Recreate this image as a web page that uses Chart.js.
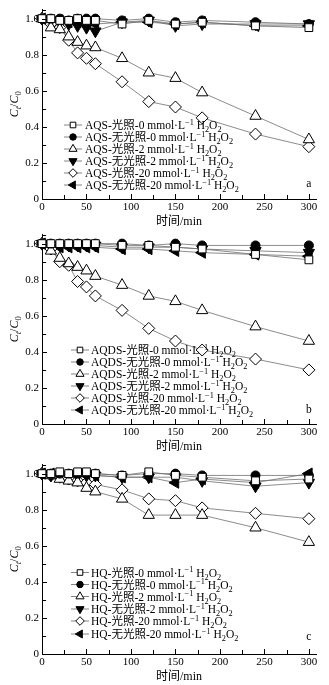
<!DOCTYPE html>
<html><head><meta charset="utf-8">
<script src="https://cdn.jsdelivr.net/npm/chart.js@4.4.1/dist/chart.umd.min.js"></script>
<style>
html,body{margin:0;padding:0;background:#fff;width:329px;height:685px;overflow:hidden;}
.p{position:absolute;left:0;width:329px;height:230px;}
</style></head><body>
<div class="p" style="top:0px"><canvas id="c0"></canvas></div>
<div class="p" style="top:225px"><canvas id="c1"></canvas></div>
<div class="p" style="top:455px"><canvas id="c2"></canvas></div>
<script>
// ---- data ----
const times = [0, 10, 20, 30, 40, 50, 60, 90, 120, 150, 180, 240, 300];
const xTicks = [0, 50, 100, 150, 200, 250, 300];
const yTicks = [0, 0.2, 0.4, 0.6, 0.8, 1.0];
const panelLetters = ['a', 'b', 'c'];
const compounds = ['AQS', 'AQDS', 'HQ'];
const conditions = ['光照-0', '无光照-0', '光照-2', '无光照-2', '光照-20', '无光照-20'];

// panel a : AQS
const aqsLight0   = [1.00, 1.00, 0.99, 0.99, 1.00, 0.99, 0.99, 0.97, 0.99, 0.97, 0.98, 0.96, 0.95];
const aqsDark0    = [1.00, 1.00, 1.00, 0.99, 1.00, 1.00, 1.00, 0.99, 1.00, 0.98, 0.99, 0.98, 0.97];
const aqsLight2   = [1.00, 0.95, 0.94, 0.90, 0.87, 0.85, 0.84, 0.78, 0.70, 0.67, 0.59, 0.46, 0.33];
const aqsDark2    = [1.00, 0.99, 0.98, 0.97, 0.96, 0.95, 0.93, 0.98, 0.99, 0.96, 0.97, 0.97, 0.97];
const aqsLight20  = [1.00, 0.97, 0.95, 0.88, 0.81, 0.78, 0.75, 0.65, 0.54, 0.51, 0.45, 0.36, 0.29];
const aqsDark20   = [1.00, 0.99, 0.99, 0.98, 0.98, 0.98, 0.97, 0.98, 0.98, 0.97, 0.98, 0.96, 0.96];

// panel b : AQDS
const aqdsLight0  = [1.00, 1.00, 1.00, 1.00, 1.00, 1.00, 1.00, 0.99, 0.99, 0.98, 0.97, 0.94, 0.91];
const aqdsDark0   = [1.00, 1.00, 1.00, 1.00, 1.00, 1.00, 1.00, 1.00, 0.99, 1.00, 0.99, 0.99, 0.99];
const aqdsLight2  = [1.00, 0.96, 0.92, 0.89, 0.87, 0.85, 0.82, 0.77, 0.71, 0.68, 0.63, 0.54, 0.46];
const aqdsDark2   = [1.00, 0.99, 0.99, 0.99, 0.99, 0.99, 0.99, 0.98, 0.98, 0.98, 0.97, 0.96, 0.95];
const aqdsLight20 = [1.00, 0.97, 0.90, 0.88, 0.79, 0.76, 0.71, 0.63, 0.53, 0.46, 0.41, 0.36, 0.30];
const aqdsDark20  = [1.00, 0.98, 0.98, 0.98, 0.98, 0.98, 0.98, 0.97, 0.97, 0.96, 0.95, 0.94, 0.93];

// panel c : HQ
const hqLight0    = [1.00, 1.00, 1.01, 1.00, 1.01, 1.01, 1.00, 0.99, 1.01, 0.99, 0.98, 0.96, 0.97];
const hqDark0     = [1.00, 1.00, 1.00, 1.00, 1.00, 1.00, 1.00, 0.99, 1.00, 1.00, 0.99, 0.99, 0.99];
const hqLight2    = [1.00, 0.99, 0.97, 0.96, 0.95, 0.92, 0.90, 0.86, 0.77, 0.77, 0.77, 0.70, 0.62];
const hqDark2     = [1.00, 0.99, 0.99, 0.99, 0.99, 0.99, 0.99, 0.98, 0.98, 0.98, 0.96, 0.93, 0.95];
const hqLight20   = [1.00, 0.99, 0.98, 0.97, 0.96, 0.95, 0.94, 0.91, 0.86, 0.85, 0.81, 0.78, 0.75];
const hqDark20    = [1.00, 1.00, 0.99, 0.99, 0.99, 0.99, 0.99, 0.98, 0.98, 0.95, 0.97, 0.95, 1.00];

const panelSeries = [
  [aqsLight0, aqsDark0, aqsLight2, aqsDark2, aqsLight20, aqsDark20],
  [aqdsLight0, aqdsDark0, aqdsLight2, aqdsDark2, aqdsLight20, aqdsDark20],
  [hqLight0, hqDark0, hqLight2, hqDark2, hqLight20, hqDark20]
];

// ---- styles ----
const SERIF = '"Liberation Serif","Noto Sans CJK SC",serif';
const markerStyles = [
  {pointStyle: 'rect', radius: 5.5, rotation: 0, fill: '#fff'},
  {pointStyle: 'circle', radius: 4.5, rotation: 0, fill: '#000'},
  {pointStyle: 'triangle', radius: 6.5, rotation: 0, fill: '#fff'},
  {pointStyle: 'triangle', radius: 6.5, rotation: 180, fill: '#000'},
  {pointStyle: 'rectRot', radius: 6, rotation: 0, fill: '#fff'},
  {pointStyle: 'triangle', radius: 6.5, rotation: 270, fill: '#000'}
];
const panelLayout = [
  {top: 6.1, legX: [64, 82, 73, 85], legY: [125, 137, 149, 161, 173, 185], letY: 187},
  {top: 7.6, legX: [71, 89, 80, 91], legY: [125, 137, 149, 161, 173, 185], letY: 188},
  {top: 6.1, legX: [71, 89, 80, 91], legY: [117.5, 129.5, 141.5, 154, 166, 179], letY: 185}
];

function drawRich(ctx, segs, x, y, size) {
  let cx = x;
  for (const s of segs) {
    const fs = (s.sup || s.sub) ? size * 0.72 : size;
    ctx.font = (s.italic ? 'italic ' : '') + fs + 'px ' + SERIF;
    const dy = s.sup ? -size * 0.38 : (s.sub ? size * 0.28 : 0);
    ctx.fillText(s.t, cx, y + dy);
    cx += ctx.measureText(s.t).width;
  }
  return cx;
}

function drawMarker(ctx, st, x, y, scale) {
  ctx.save();
  ctx.fillStyle = st.fill;
  ctx.strokeStyle = '#000';
  ctx.lineWidth = 1;
  Chart.helpers.drawPoint(ctx, {pointStyle: st.pointStyle, rotation: st.rotation, radius: st.radius * scale, borderWidth: 1}, x, y);
  ctx.restore();
}

function makePlugin(pi) {
  return {
    id: 'deco' + pi,
    afterDraw(chart) {
      const ctx = chart.ctx;
      const xs = chart.scales.x, ys = chart.scales.y;
      const L = panelLayout[pi];
      ctx.save();
      // inward ticks
      ctx.strokeStyle = '#000';
      ctx.lineWidth = 1;
      const yb = ys.getPixelForValue(0);
      const xl = xs.getPixelForValue(0);
      ctx.beginPath();
      for (let v = 0; v <= 300; v += 25) {
        const px = Math.round(xs.getPixelForValue(v)) + 0.5;
        const len = v % 50 === 0 ? 5 : 4;
        ctx.moveTo(px, yb); ctx.lineTo(px, yb - len);
      }
      for (let k = 0; k <= 10; k++) {
        const v = k / 10;
        const py = Math.round(ys.getPixelForValue(v)) + 0.5;
        const len = k % 2 === 0 ? 5 : 4;
        ctx.moveTo(xl, py); ctx.lineTo(xl + len, py);
      }
      const pt = Math.round(ys.getPixelForValue(ys.max)) + 0.5;
      ctx.moveTo(xl, pt); ctx.lineTo(xl + 4, pt);
      ctx.stroke();

      // y title  Ct/C0
      ctx.fillStyle = '#000';
      ctx.textBaseline = 'alphabetic';
      ctx.textAlign = 'left';
      const cy = (chart.chartArea.top + chart.chartArea.bottom) / 2;
      ctx.translate(18, cy);
      ctx.rotate(-Math.PI / 2);
      const ySegs = [{t: 'C', italic: true}, {t: 't', italic: true, sub: true}, {t: '/'}, {t: 'C', italic: true}, {t: '0', sub: true}];
      let w = 0;
      for (const s of ySegs) {
        ctx.font = (s.italic ? 'italic ' : '') + ((s.sub) ? 12 * 0.72 : 12) + 'px ' + SERIF;
        w += ctx.measureText(s.t).width;
      }
      drawRich(ctx, ySegs, -w / 2, 0, 12);
      ctx.setTransform(1, 0, 0, 1, 0, 0);
      ctx.restore();

      // legend
      ctx.save();
      ctx.textBaseline = 'alphabetic';
      ctx.textAlign = 'left';
      for (let i = 0; i < 6; i++) {
        const y = L.legY[i];
        ctx.strokeStyle = '#666';
        ctx.lineWidth = 0.8;
        ctx.beginPath();
        ctx.moveTo(L.legX[0], y); ctx.lineTo(L.legX[1], y);
        ctx.stroke();
        drawMarker(ctx, markerStyles[i], L.legX[2], y, 0.72);
        ctx.fillStyle = '#000';
        drawRich(ctx, [
          {t: compounds[pi] + '-' + conditions[i] + ' mmol·L'},
          {t: '−1', sup: true},
          {t: ' H'}, {t: '2', sub: true}, {t: 'O'}, {t: '2', sub: true}
        ], L.legX[3], y + 4, 11.5);
      }
      // panel letter
      ctx.font = '11.5px ' + SERIF;
      ctx.textAlign = 'center';
      ctx.fillText(panelLetters[pi], xs.getPixelForValue(300), L.letY);
      ctx.restore();
    }
  };
}

for (let pi = 0; pi < 3; pi++) {
  const datasets = panelSeries[pi].map((arr, i) => ({
    label: compounds[pi] + '-' + conditions[i],
    data: times.map((t, k) => ({x: t, y: arr[k]})),
    borderColor: '#6e6e6e',
    borderWidth: 0.8,
    pointStyle: markerStyles[i].pointStyle,
    pointRotation: markerStyles[i].rotation,
    pointRadius: markerStyles[i].radius,
    pointBackgroundColor: markerStyles[i].fill,
    pointBorderColor: '#000',
    pointBorderWidth: 1,
    tension: 0,
    clip: false
  }));
  new Chart(document.getElementById('c' + pi), {
    type: 'line',
    data: {datasets},
    options: {
      responsive: true,
      maintainAspectRatio: false,
      animation: false,
      events: [],
      layout: {padding: {top: panelLayout[pi].top, right: 13, left: 0, bottom: 0}},
      plugins: {legend: {display: false}, tooltip: {enabled: false}},
      scales: {
        x: {
          type: 'linear', min: 0, max: 308,
          afterBuildTicks: s => { s.ticks = xTicks.map(v => ({value: v})); },
          afterFit: s => { s.height = 31; },
          grid: {display: false, drawTicks: false},
          border: {display: true, color: '#000', width: 1},
          ticks: {color: '#000', padding: 2, maxRotation: 0, autoSkip: false,
                  font: {family: SERIF, size: 11}},
          title: {display: true, text: '时间/min', color: '#000', padding: {top: 0, bottom: 1},
                  font: {family: SERIF, size: 12}}
        },
        y: {
          type: 'linear', min: 0, max: 1.05,
          afterBuildTicks: s => { s.ticks = yTicks.map(v => ({value: v})); },
          afterFit: s => { s.width = 42; },
          grid: {display: false, drawTicks: false},
          border: {display: true, color: '#000', width: 1},
          ticks: {color: '#000', padding: 3, autoSkip: false,
                  callback: v => v === 0 ? '0' : v.toFixed(1),
                  font: {family: SERIF, size: 11}}
        }
      }
    },
    plugins: [makePlugin(pi)]
  });
}
</script>
</body></html>
